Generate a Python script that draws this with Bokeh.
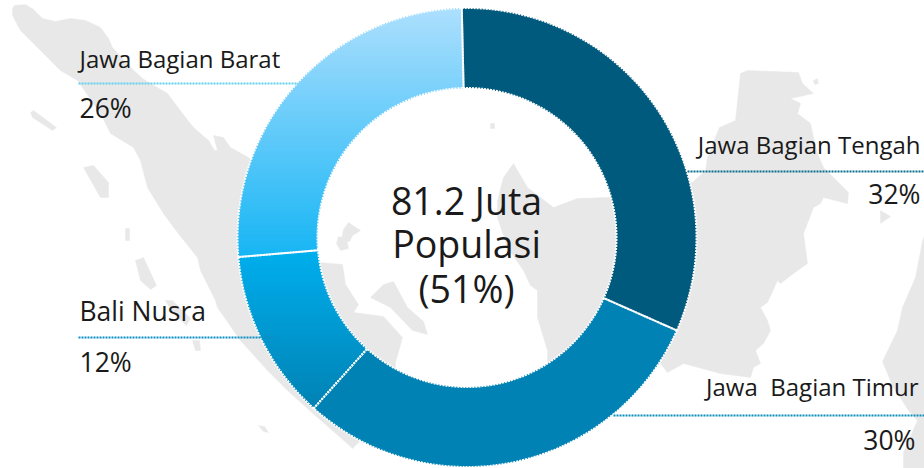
import numpy as np
from bokeh.embed import file_html
from bokeh.models import Range1d
from bokeh.plotting import figure
from bokeh.resources import INLINE
from bokeh.core.properties import value

W, H = 924, 468

# ---- data ----
regions = ["Jawa Bagian Tengah", "Jawa \u00a0Bagian Timur", "Bali Nusra", "Jawa Bagian Barat"]
shares = [32, 30, 12, 26]
share_labels = ["32%", "30%", "12%", "26%"]
center_lines = ["81.2 Juta", "Populasi", "(51%)"]
flat_colors = ["#005a7d", "#0082b4", "#0098cf", "#5cc9f8"]
grad_top = {2: "#00b2f2", 3: "#b8e2ff"}
grad_bottom = {2: "#007fb0", 3: "#0db2f4"}
leader_colors = ["#0a6f8f", "#0b8dba", "#0b8fc2", "#62cff0"]

# ---- layout (page pixels of the picture) ----
CX, CY, R_OUT, R_IN = 466.5, 237.0, 229.5, 149.5
START_DEG = -1.3
MAP_COLOR = "#e8e8e8"
FONT = "Open Sans"
TEXT_COLOR = "#1a1a1a"

label_pos = [(920, 144, "right"), (918, 386, "right"), (79, 310, "left"), (79, 58, "left")]
label_size = ["24px", "24px", "26.5px", "24px"]
pct_pos = [(920, 193.5, "right"), (915, 439, "right"), (79, 361.5, "left"), (79, 107, "left")]
leaders = [(687, 924, 171), (613, 924, 415), (78, 275, 337), (78, 298, 83)]
center_base = [(466, 199.5), (466, 242.5), (466, 287.5)]

# decorative island outlines
sumatra = [(12,8),(14,5),(25,4),(33,9),(42,18),(55,21),(70,18),(85,20),(100,27),(108,38),(112,47),(128,65),
           (142,78),(150,83),(167,93),(182,113),(193,127),(208,140),(214,150),(217,150),(213,135),(223,137),
           (230,147),(248,157),(300,200),(318,262),(342,264),(345,284),(358,304),(353,312),(383,316),(402,337),
           (395,362),(395,400),(360,440),(352,448),(340,437),(317,417),(287,390),(267,370),(240,340),(217,307),
           (215,300),(200,270),(197,257),(177,232),(163,213),(147,187),(140,160),(133,147),(110,133),(100,113),
           (77,80),(60,70),(45,55),(30,40),(20,30),(12,15)]
kalimantan = [(513,163),(503,177),(497,200),(497,217),(507,247),(523,270),(530,285),(537,290),(537,317),(547,350),
              (547,380),(630,385),(660,363),(667,372),(683,363),(720,373),(750,377),(753,367),(760,363),(755,350),
              (763,343),(770,330),(767,320),(760,307),(767,302),(777,280),(780,283),(793,273),(807,263),(803,233),
              (813,207),(820,203),(823,197),(847,203),(848,192),(823,167),(817,153),(813,137),(810,123),(797,113),
              (800,103),(790,98),(813,93),(802,83),(798,72),(747,70),(740,73),(735,120),(719,127),(707,157),
              (705,170),(692,182),(650,190),(607,197),(577,198),(553,207),(527,187)]
sulawesi = [(924,235),(922,241),(915,277),(902,307),(897,330),(882,361),(892,385),(908,410),(917,420),(903,452),(903,468),(924,468)]
small_isles = [
    [(30,112),(33,110),(56,127),(52,130),(32,117)],
    [(83,167),(93,165),(108,182),(108,197),(100,197)],
    [(135,260),(143,257),(156,285),(150,289),(140,280)],
    [(338,236),(346,238),(348,248),(340,250),(336,243)],
    [(343,229),(348,222),(360,230),(352,235),(349,241),(341,240)],
    [(370,297),(383,284),(393,281),(407,307),(423,321),(427,334),(412,330),(390,307)],
    [(880,210),(890,216),(880,223)],
    [(813,80),(817,78),(818,83),(814,84)],
    [(258,425),(264,426),(268,432),(263,431)],
    [(165,300),(172,300),(190,318),(186,325),(172,312)],
    [(192,340),(199,340),(200,350),(195,350)],
    [(125,228),(129,228),(129,240),(125,240)],
    [(490,123),(494,123),(494,128),(490,128)],
]


def fy(y):
    return H - y


def hex_rgb(c):
    return np.array([int(c[i:i + 2], 16) for i in (1, 3, 5)], dtype=float)


p = figure(width=W, height=H, output_backend="svg", toolbar_location=None,
           x_range=Range1d(0, W), y_range=Range1d(0, H), min_border=0, outline_line_color=None)
p.axis.visible = False
p.grid.visible = False
p.background_fill_color = "white"
p.border_fill_color = "white"

# map
all_shapes = [sumatra, kalimantan, sulawesi] + small_isles
p.patches([[q[0] for q in s] for s in all_shapes], [[fy(q[1]) for q in s] for s in all_shapes],
          fill_color=MAP_COLOR, line_color=MAP_COLOR, line_width=0.5)

# slice angles, clockwise from the top
frac = np.cumsum([0] + shares) / float(sum(shares)) * 360 + START_DEG
a0, a1 = frac[:-1], frac[1:]

# flat base of the ring
p.annular_wedge(x=CX, y=fy(CY), inner_radius=R_IN, outer_radius=R_OUT,
                start_angle=list(np.radians(90 - a0)), end_angle=list(np.radians(90 - a1)), direction="clock",
                fill_color=flat_colors, line_color=None)

# gradient slices are painted row by row
for i, top_c in grad_top.items():
    ys, xs = np.mgrid[0:H, 0:W * 4]
    xx = (xs + 0.5) / 4.0
    yy = ys + 0.5
    ang = np.degrees(np.arctan2(xx - CX, CY - yy)) % 360
    rr = np.hypot(xx - CX, yy - CY)
    mask = (rr >= R_IN) & (rr <= R_OUT) & (ang >= a0[i] % 360) & (ang < a1[i] % 360)
    rows = np.where(mask.any(axis=1))[0]
    y0, y1 = rows.min(), rows.max()
    c0, c1 = hex_rgb(top_c), hex_rgb(grad_bottom[i])
    left, right, top, bottom, cols = [], [], [], [], []
    for r in rows:
        idx = np.where(mask[r])[0]
        t = (r - y0) / float(y1 - y0)
        c = c0 + (c1 - c0) * t
        left.append(xx[r, idx[0]])
        right.append(xx[r, idx[-1]])
        top.append(fy(r))
        bottom.append(fy(r + 1.3))
        cols.append("#%02x%02x%02x" % tuple(int(round(v)) for v in c))
    p.quad(left=left, right=right, top=top, bottom=bottom, fill_color=cols, line_color=None)

# dotted white outline of every slice
p.annular_wedge(x=CX, y=fy(CY), inner_radius=R_IN, outer_radius=R_OUT,
                start_angle=list(np.radians(90 - a0)), end_angle=list(np.radians(90 - a1)), direction="clock",
                fill_color=None, line_color="white", line_width=2, line_dash="2 1")

# leaders
for (x0, x1, yl), c in zip(leaders, leader_colors):
    p.line([x0, x1], [fy(yl), fy(yl)], line_color=c, line_width=2, line_dash="2 1")

# labels
for txt, (x, y, al), sz in zip(regions, label_pos, label_size):
    p.text([x], [fy(y)], text=[txt], text_font=value(FONT), text_font_size=sz, text_align=al,
           text_baseline="alphabetic", text_color=TEXT_COLOR)
for txt, (x, y, al) in zip(share_labels, pct_pos):
    p.text([x], [fy(y)], text=[txt], text_font=value(FONT), text_font_size="26.5px", text_align=al,
           text_baseline="alphabetic", text_color=TEXT_COLOR)
for txt, (x, y) in zip(center_lines, center_base):
    p.text([x], [fy(y)], text=[txt], text_font=value(FONT), text_font_size="37.5px", text_align="center",
           text_baseline="alphabetic", text_color=TEXT_COLOR)

open("out.html", "w").write(file_html(p, INLINE))
